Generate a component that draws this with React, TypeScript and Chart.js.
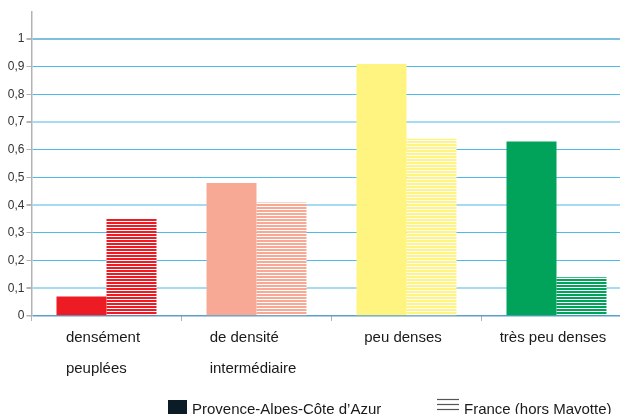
import React, { useEffect, useRef } from "react";
import { Chart, registerables } from "chart.js";

Chart.register(...registerables);

const categories: (string | string[])[] = [
  ["densément", "peuplées"],
  ["de densité", "intermédiaire"],
  "peu denses",
  "très peu denses",
];
const seriesLabels = ["Provence-Alpes-Côte d’Azur", "France (hors Mayotte)"];
const pacaValues = [0.07, 0.48, 0.91, 0.63];
const franceValues = [0.35, 0.41, 0.64, 0.14];
const barColors = ["#ed1c24", "#f7a995", "#fff47f", "#00a359"];
const yMin = 0;
const yMax = 1.1;
const yStep = 0.1;

const LABEL_FONT = "'Liberation Sans Narrow', 'Liberation Sans', Arial, sans-serif";
const LABEL_SIZE = 15;
const REGULAR = "'Liberation Sans', Arial, sans-serif";

function stripePattern(color: string): CanvasPattern | string {
  const c = document.createElement("canvas");
  c.width = 4;
  c.height = 3;
  const g = c.getContext("2d");
  if (!g) return color;
  g.fillStyle = "#ffffff";
  g.fillRect(0, 0, 4, 3);
  g.fillStyle = color;
  g.fillRect(0, 0, 4, 2);
  const p = g.createPattern(c, "repeat");
  return p || color;
}

// Multi-line category labels: centred block, lines left-aligned
const blockLabelsPlugin = {
  id: "blockLabels",
  beforeDraw(chart: any) {
    const scale = chart.scales.x;
    if (!scale || typeof scale.getLabelItems !== "function") return;
    const items = scale.getLabelItems(chart.chartArea);
    const ctx = chart.ctx as CanvasRenderingContext2D;
    items.forEach((it: any) => {
      if (it._shifted) return;
      ctx.save();
      ctx.font = it.font.string;
      const lines = Array.isArray(it.label) ? it.label : [it.label];
      const w = Math.max(...lines.map((l: string) => ctx.measureText(String(l)).width));
      ctx.restore();
      it.options.translation[0] -= w / 2;
      it.options.textAlign = "left";
      it._shifted = true;
    });
  },
};

const legendPlugin = {
  id: "customLegend",
  afterDraw(chart: any) {
    const ctx = chart.ctx as CanvasRenderingContext2D;
    const labels = chart.data.datasets.map((d: any) => d.label);
    ctx.save();
    ctx.fillStyle = "#0b1c26";
    ctx.fillRect(168, 400, 19, 19);
    ctx.font = `${LABEL_SIZE}px ${LABEL_FONT}`;
    ctx.fillStyle = "#1a1a1a";
    ctx.textBaseline = "alphabetic";
    ctx.textAlign = "left";
    ctx.fillText(labels[0], 192, 413.5);
    ctx.strokeStyle = "#555555";
    ctx.lineWidth = 1.2;
    [399.5, 404.5, 409.5].forEach((y) => {
      ctx.beginPath();
      ctx.moveTo(437, y);
      ctx.lineTo(459, y);
      ctx.stroke();
    });
    ctx.fillText(labels[1], 464, 413.5);
    ctx.restore();
  },
};

export default function App() {
  const ref = useRef<HTMLCanvasElement | null>(null);
  useEffect(() => {
    if (!ref.current) return;
    const chart = new Chart(ref.current, {
      type: "bar",
      data: {
        labels: categories,
        datasets: [
          {
            label: seriesLabels[0],
            data: pacaValues,
            backgroundColor: barColors,
            borderWidth: 0,
            categoryPercentage: 2 / 3,
            barPercentage: 1,
          },
          {
            label: seriesLabels[1],
            data: franceValues,
            backgroundColor: barColors.map((c) => stripePattern(c)) as any,
            borderWidth: 0,
            categoryPercentage: 2 / 3,
            barPercentage: 1,
          },
        ],
      },
      options: {
        responsive: false,
        animation: false,
        devicePixelRatio: 1,
        layout: { padding: { left: 0, right: 8.5, top: 11.3, bottom: 0 } },
        plugins: {
          legend: { display: false },
          tooltip: { enabled: false },
        },
        scales: {
          x: {
            offset: true,
            grid: {
              display: true,
              drawOnChartArea: false,
              drawTicks: true,
              tickLength: 5,
              color: "#b3b3b3",
              offset: true,
            },
            border: { display: false },
            ticks: {
              autoSkip: false,
              maxRotation: 0,
              minRotation: 0,
              align: "start",
              padding: 1,
              labelOffset: -3.5,
              color: "#1a1a1a",
              font: { family: LABEL_FONT, size: LABEL_SIZE, lineHeight: 2.1 },
            },
            afterFit: (scale: any) => {
              scale.height = 98;
              scale.paddingLeft = 0;
              scale.paddingRight = 0;
            },
          },
          y: {
            min: yMin,
            max: yMax,
            border: { display: true, color: "#b3b3b3", width: 1.5 },
            grid: {
              drawTicks: true,
              tickLength: 5,
              tickColor: (ctx: any) =>
                Math.round((ctx.tick?.value ?? 0) * 10) >= 11 ? "rgba(0,0,0,0)" : "#b3b3b3",
              color: (ctx: any) => {
                const k = Math.round((ctx.tick?.value ?? 0) * 10);
                if (k >= 11) return "rgba(0,0,0,0)";
                if (k === 0) return "#5b9fcb";
                if (k === 10) return "#80c0df";
                if (k === 1 || k === 4 || k === 7) return "#a6dcf2";
                return "#4cbbea";
              },
              lineWidth: (ctx: any) => {
                const k = Math.round((ctx.tick?.value ?? 0) * 10);
                if (k === 10 || k === 1 || k === 4 || k === 7) return 2;
                if (k === 0) return 1.5;
                return 1;
              },
            },
            ticks: {
              stepSize: yStep,
              padding: 2,
              color: "#333333",
              font: { family: REGULAR, size: 12 },
              callback: (v: any) => {
                const k = Math.round(Number(v) * 10);
                if (k >= 11) return "";
                return (k / 10).toString().replace(".", ",");
              },
            },
            afterFit: (scale: any) => {
              scale.width = 31.5;
            },
          },
        },
      },
      plugins: [blockLabelsPlugin, legendPlugin],
    });
    return () => chart.destroy();
  }, []);

  return (
    <div
      style={{
        position: "fixed",
        left: 0,
        top: 0,
        width: 620,
        height: 414,
        overflow: "hidden",
        background: "#ffffff",
      }}
    >
      <canvas ref={ref} width={640} height={414} style={{ display: "block" }} />
    </div>
  );
}
